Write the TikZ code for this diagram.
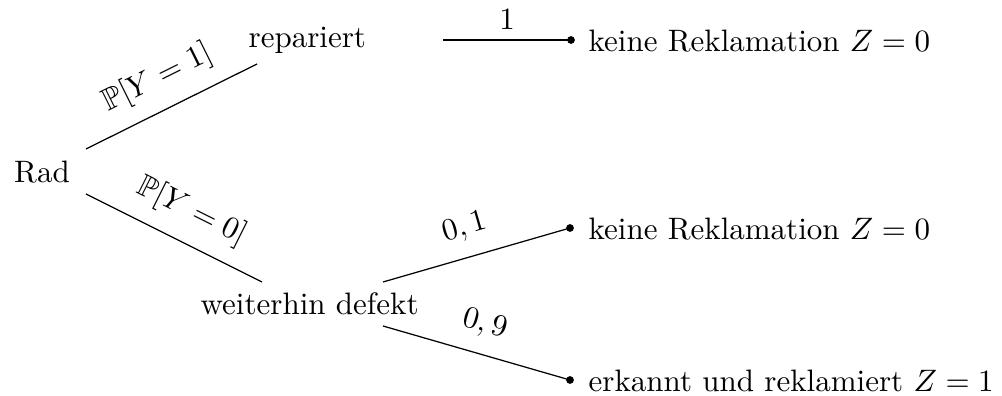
\documentclass[tikz,border=0pt]{standalone}
\usepackage{amssymb}
\begin{document}
\begin{tikzpicture}[x=0.3226pt,y=-0.3226pt,
  txt/.style={inner sep=0pt},
  dotnode/.style={circle,fill=black,inner sep=0pt,minimum size=2.5pt},
  edge/.style={line width=0.4pt},
  lab/.style={sloped,above,inner sep=3.33pt},
  farlab/.style={sloped,above,inner sep=5pt}]
\useasboundingbox (0,0) rectangle (1002,396);
% nodes
\node[txt,anchor=base] (rad) at (42,183) {Rad};
\node[txt,anchor=base west] (rep) at (248,48) {repariert};
\node[txt,anchor=base west] (wd) at (200,315) {weiterhin defekt};
\node[dotnode] (d1) at (571,40) {};
\node[dotnode] (d2) at (570,228) {};
\node[dotnode] (d3) at (570,380) {};
\node[txt,anchor=base west] (t1) at (588,52) {keine Reklamation $Z=0$};
\node[txt,anchor=base west] (t2) at (588,240) {keine Reklamation $Z=0$};
\node[txt,anchor=base west] (t3) at (588,392) {erkannt und reklamiert $Z=1$};
% connector ends
\coordinate (radU) at (86,149);
\coordinate (radD) at (86,194);
\coordinate (repIn) at (257,64);
\coordinate (wdIn) at (262,282);
\coordinate (repOut) at (443,40);
\coordinate (wdU) at (383,282);
\coordinate (wdD) at (383,326);
% connectors
\draw[edge] (radU) -- node[farlab,pos=0.5] {$\mathbb{P}[Y=1]$} (repIn);
\draw[edge] (radD) -- node[farlab,pos=0.52] {$\mathbb{P}[Y=0]$} (wdIn);
\draw[edge] (repOut) -- node[lab,pos=0.5] {$1$} (d1.center);
\draw[edge] (wdU) -- node[farlab,pos=0.48] {$0,1$} (d2.center);
\draw[edge] (wdD) -- node[farlab,pos=0.5] {$0,9$} (d3.center);
\end{tikzpicture}
\end{document}
